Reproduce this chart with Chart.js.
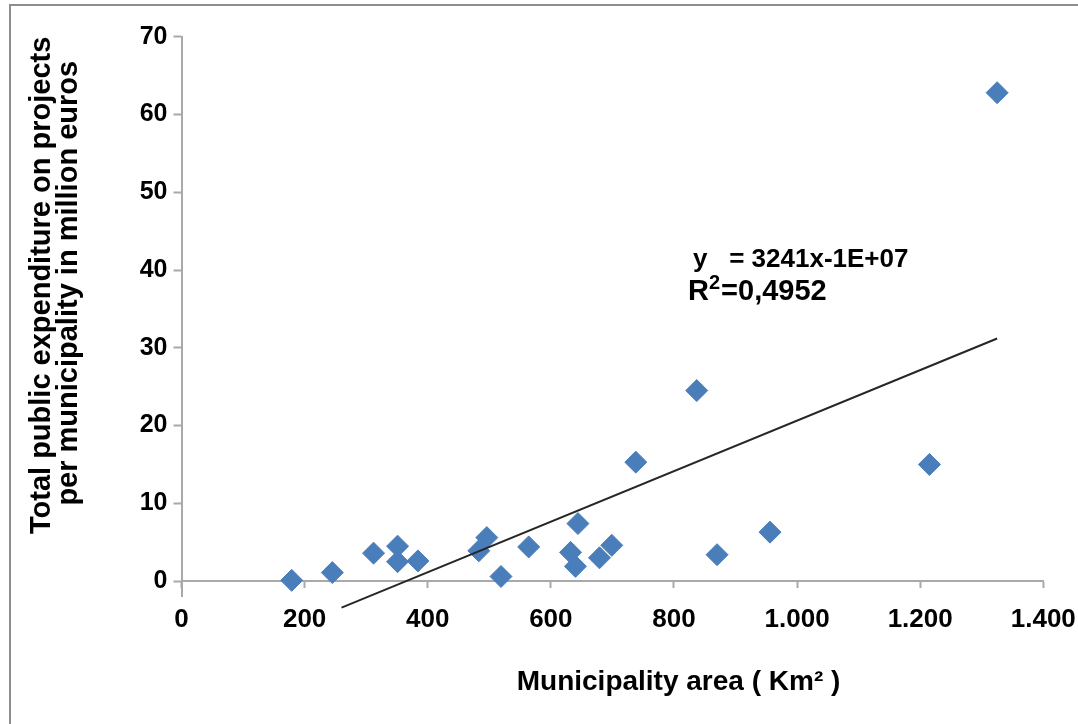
<!DOCTYPE html>
<html>
<head>
<meta charset="utf-8">
<script src="https://cdn.jsdelivr.net/npm/chart.js@4.4.0/dist/chart.umd.min.js"></script>
<style>
  html, body { margin: 0; padding: 0; background: #fff; }
  #wrap { position: relative; width: 1078px; height: 724px; overflow: hidden; }
  #frame { position: absolute; left: 9px; top: 4px; width: 1200px; height: 900px;
           border-left: 2px solid #8e8e8e; border-top: 2px solid #8e8e8e; }
  canvas { position: absolute; left: 0; top: 0; }
</style>
</head>
<body>
<div id="wrap">
  <div id="frame"></div>
  <canvas id="chart" width="1078" height="724"></canvas>
</div>
<script>
// Municipality area (km2) and total public expenditure (million euros)
const areaKm2     = [179, 245, 312, 351, 351, 384, 483, 496, 519, 564, 632, 640, 644, 679, 699, 738, 837, 870, 956, 1215, 1325];
const expenditure = [0.1, 1.1, 3.6, 4.5, 2.5, 2.6, 3.9, 5.6, 0.6, 4.4, 3.7, 1.9, 7.4, 3.0, 4.6, 15.3, 24.5, 3.4, 6.3, 15.0, 62.8];

// Linear trendline, read at both ends
const trendArea        = [260, 1325];
const trendExpenditure = [-3.4, 31.2];

// Axis ticks
const xTickValues = [0, 200, 400, 600, 800, 1000, 1200, 1400];
const xTickLabels = ['0', '200', '400', '600', '800', '1.000', '1.200', '1.400'];
const yTickValues = [0, 10, 20, 30, 40, 50, 60, 70];

// Trendline equation text
const trendEquation = 'y   = 3241x-1E+07';
const rSquared      = '0,4952';

const fontFamily = '"Liberation Sans", Arial, sans-serif';
const axisGray   = '#a9a9a9';
const markerBlue = '#4a7ebb';

Chart.defaults.font.family = fontFamily;

// Equation label next to the trendline
const trendLabel = {
    id: 'trendLabel',
    afterDatasetsDraw(chart) {
        const { ctx, scales: { x, y } } = chart;
        const left = x.getPixelForValue(831);
        ctx.save();
        ctx.fillStyle = '#000';
        ctx.textBaseline = 'alphabetic';
        ctx.font = `bold 26px ${fontFamily}`;
        ctx.fillText(trendEquation, left, y.getPixelForValue(40.4));

        const base = y.getPixelForValue(36.2);
        let cx = left - 5;
        ctx.font = `bold 29px ${fontFamily}`;
        ctx.fillText('R', cx, base);
        cx += ctx.measureText('R').width;
        ctx.font = `bold 20px ${fontFamily}`;
        ctx.fillText('2', cx, base - 11);
        cx += ctx.measureText('2').width + 1;
        ctx.font = `bold 29px ${fontFamily}`;
        ctx.fillText('=' + rSquared, cx, base);
        ctx.restore();
    }
};

new Chart(document.getElementById('chart'), {
    type: 'scatter',
    data: {
        datasets: [
            {
                type: 'line',
                label: 'Trend',
                data: trendArea.map((v, i) => ({ x: v, y: trendExpenditure[i] })),
                borderColor: '#262626',
                borderWidth: 2,
                pointRadius: 0,
                fill: false,
                clip: false,
                order: 0
            },
            {
                label: 'Municipalities',
                data: areaKm2.map((v, i) => ({ x: v, y: expenditure[i] })),
                pointStyle: 'rectRot',
                pointRadius: 11,
                backgroundColor: markerBlue,
                borderColor: markerBlue,
                borderWidth: 1,
                order: 1
            }
        ]
    },
    options: {
        responsive: false,
        animation: false,
        // x axis sits on y = 0 and reserves no room of its own
        layout: { padding: { left: 10, top: 36.7, right: 34.7, bottom: 127.3 } },
        plugins: {
            legend: { display: false },
            tooltip: { enabled: false }
        },
        scales: {
            x: {
                type: 'linear',
                position: { y: 0 },
                min: 0,
                max: 1400,
                afterBuildTicks: s => { s.ticks = xTickValues.map(v => ({ value: v })); },
                afterFit: s => {
                    s.height = 127.3;
                    s.paddingLeft = 0;
                    s.paddingRight = 0;
                },
                grid: { drawOnChartArea: false, tickLength: 6, color: axisGray, tickWidth: 2 },
                border: { color: axisGray, width: 2 },
                ticks: {
                    callback: (v, i) => xTickLabels[i],
                    padding: 17,
                    maxRotation: 0,
                    autoSkip: false,
                    color: '#000',
                    font: { size: 26, weight: 'bold' }
                },
                title: {
                    display: true,
                    text: ' '.repeat(17) + 'Municipality area ( Km² )',
                    color: '#000',
                    font: { size: 28, weight: 'bold' },
                    padding: { top: 0, bottom: 9.5 }
                }
            },
            y: {
                min: -2,
                max: 70,
                afterBuildTicks: s => { s.ticks = yTickValues.map(v => ({ value: v })); },
                afterFit: s => { s.width = 171.5; },
                grid: { drawOnChartArea: false, tickLength: 8, color: axisGray, tickWidth: 2 },
                border: { color: axisGray, width: 2 },
                ticks: {
                    padding: 6,
                    color: '#000',
                    font: { size: 25, weight: 'bold' }
                },
                title: {
                    display: true,
                    align: 'end',
                    text: ['Total public expenditure on projects', 'per municipality in million euros   '],
                    color: '#000',
                    font: { size: 29, weight: 'bold', lineHeight: 0.93 },
                    padding: { top: 19, bottom: 0 }
                }
            }
        }
    },
    plugins: [trendLabel]
});
</script>
</body>
</html>
